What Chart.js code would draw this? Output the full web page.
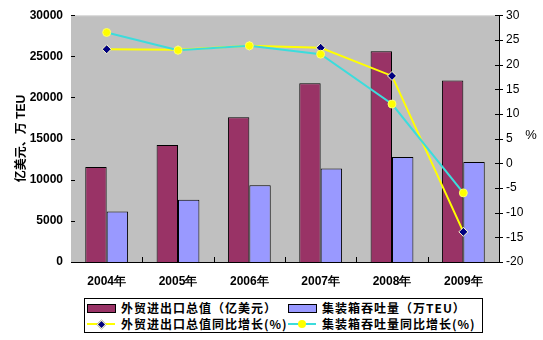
<!DOCTYPE html>
<html>
<head>
<meta charset="utf-8">
<script src="https://cdn.jsdelivr.net/npm/chart.js@4.4.0/dist/chart.umd.min.js"></script>
<style>
  body { margin: 0; background: #fff; }
  #wrap { position: relative; width: 543px; height: 340px; }
  #legend {
    position: absolute; left: 84px; top: 298px; width: 397px; height: 33px;
    border: 1px solid #000; background: #fff;
    font-family: "Noto Sans CJK SC", sans-serif; font-size: 12px; font-weight: bold;
    letter-spacing: 1px; color: #000;
  }
  .item { position: absolute; height: 16px; line-height: 16px; white-space: nowrap; }
  .box { position: absolute; top: 4px; width: 27px; height: 7px; border: 1px solid #000; }
  .ln { position: absolute; top: 7px; width: 28px; height: 2px; }
  .mk { position: absolute; }
  .txt { position: absolute; left: 34px; top: 0; }
</style>
</head>
<body>
<div id="wrap">
  <canvas id="grafico" width="543" height="340"></canvas>
  <div id="legend">
    <div class="item" style="left:2px;top:1px;">
      <span class="box" style="left:0;background:#993366;"></span>
      <span class="txt">外贸进出口总值（亿美元）</span>
    </div>
    <div class="item" style="left:203px;top:1px;">
      <span class="box" style="left:0;background:#9999FF;"></span>
      <span class="txt">集装箱吞吐量（万TEU）</span>
    </div>
    <div class="item" style="left:2px;top:17px;">
      <span class="ln" style="left:0;background:#FFFF00;"></span>
      <span class="mk" style="left:11px;top:5px;width:5px;height:5px;background:#000080;transform:rotate(45deg);border:0.5px solid #ffffcc;"></span>
      <span class="txt">外贸进出口总值同比增长(%)</span>
    </div>
    <div class="item" style="left:203px;top:17px;">
      <span class="ln" style="left:0;background:#3CDCDC;"></span>
      <span class="mk" style="left:10px;top:4px;width:8px;height:8px;border-radius:50%;background:#FFFF00;"></span>
      <span class="txt">集装箱吞吐量同比增长(%)</span>
    </div>
  </div>
</div>
<script>
const years = ['2004年', '2005年', '2006年', '2007年', '2008年', '2009年'];
const tradeValue = [11548, 14221, 17604, 21738, 25616, 22072];
const containerTeu = [6150, 7560, 9330, 11380, 12760, 12150];
const tradeGrowth = [23.1, 23.0, 23.8, 23.4, 17.7, -13.9];
const containerGrowth = [26.5, 22.9, 23.8, 22.1, 12.0, -6.0];

const leftMin = 0, leftMax = 30000, leftStep = 5000;
const rightMin = -20, rightMax = 30, rightStep = 5;

// fondo gris, marcas de los ejes y el "%"
const extras = {
    id: 'extras',
    beforeDatasetsDraw(chart) {
        const { ctx, chartArea: a } = chart;
        ctx.save();
        ctx.fillStyle = '#C0C0C0';
        ctx.fillRect(a.left, a.top, a.right - a.left, a.bottom - a.top);
        ctx.strokeStyle = '#e0e0e0';
        ctx.lineWidth = 1;
        ctx.beginPath();
        ctx.moveTo(a.left, a.top + 0.5);
        ctx.lineTo(a.right, a.top + 0.5);
        ctx.stroke();
        ctx.restore();
    },
    afterDraw(chart) {
        const { ctx, chartArea: a, scales } = chart;
        ctx.save();
        ctx.strokeStyle = '#000';
        ctx.lineWidth = 1;
        ctx.beginPath();
        for (let v = leftMin; v <= leftMax; v += leftStep) {
            const y = Math.round(scales.y.getPixelForValue(v)) + 0.5;
            ctx.moveTo(a.left, y);
            ctx.lineTo(a.left + 4, y);
        }
        for (let v = rightMin; v <= rightMax; v += rightStep) {
            const y = Math.round(scales.y1.getPixelForValue(v)) + 0.5;
            ctx.moveTo(a.right - 4, y);
            ctx.lineTo(a.right + 4, y);
        }
        const w = (a.right - a.left) / years.length;
        for (let i = 1; i < years.length; i++) {
            const x = Math.round(a.left + w * i) + 0.5;
            ctx.moveTo(x, a.bottom);
            ctx.lineTo(x, a.bottom - 5);
        }
        ctx.stroke();
        ctx.fillStyle = '#000';
        ctx.font = '13px "Liberation Sans", Arial, sans-serif';
        ctx.textAlign = 'center';
        ctx.textBaseline = 'middle';
        ctx.fillText('%', 531, 135);
        ctx.restore();
    }
};

new Chart(document.getElementById('grafico'), {
    data: {
        labels: years,
        datasets: [
            { type: 'line', label: '外贸进出口总值同比增长(%)', data: tradeGrowth, yAxisID: 'y1', order: 1,
              borderColor: '#FFFF00', borderWidth: 2, pointStyle: 'rectRot', pointRadius: 4.5,
              pointBackgroundColor: '#000080', pointBorderColor: '#ffffcc', pointBorderWidth: 1, tension: 0 },
            { type: 'line', label: '集装箱吞吐量同比增长(%)', data: containerGrowth, yAxisID: 'y1', order: 0,
              borderColor: '#3CDCDC', borderWidth: 2, pointStyle: 'circle', pointRadius: 4,
              pointBackgroundColor: '#FFFF00', pointBorderColor: '#FFFF66', pointBorderWidth: 1, tension: 0 },
            { type: 'bar', label: '外贸进出口总值（亿美元）', data: tradeValue, yAxisID: 'y', order: 2,
              backgroundColor: '#993366', borderColor: '#000', borderWidth: 1,
              categoryPercentage: 0.6, barPercentage: 1 },
            { type: 'bar', label: '集装箱吞吐量（万TEU）', data: containerTeu, yAxisID: 'y', order: 3,
              backgroundColor: '#9999FF', borderColor: '#000', borderWidth: 1,
              categoryPercentage: 0.6, barPercentage: 1 }
        ]
    },
    options: {
        responsive: false,
        animation: false,
        layout: { padding: { top: 8, left: 0, right: 0, bottom: 0 } },
        plugins: { legend: { display: false }, tooltip: { enabled: false } },
        scales: {
            x: {
                offset: true,
                grid: { display: false, drawTicks: false },
                border: { display: true, color: '#000', width: 1 },
                ticks: { color: '#000', padding: 12, font: { family: '"Liberation Sans", Arial, sans-serif', size: 12, weight: 'bold' } },
                afterFit(s) { s.height = 78; }
            },
            y: {
                position: 'left', min: leftMin, max: leftMax,
                grid: { display: false, drawTicks: false },
                border: { display: true, color: '#000', width: 1 },
                ticks: { stepSize: leftStep, color: '#000', padding: 8, callback: v => String(v),
                         font: { family: '"Liberation Sans", Arial, sans-serif', size: 12, weight: 'bold' } },
                title: { display: true, text: '亿美元、万 TEU', color: '#000', padding: { top: 14, bottom: 0 },
                         font: { family: '"Liberation Sans", "Noto Sans CJK SC", sans-serif', size: 12, weight: 'bold' } },
                afterFit(s) { s.width = 71; }
            },
            y1: {
                position: 'right', min: rightMin, max: rightMax,
                grid: { display: false, drawTicks: false },
                border: { display: true, color: '#000', width: 1 },
                ticks: { stepSize: rightStep, color: '#000', padding: 7, font: { family: '"Liberation Sans", Arial, sans-serif', size: 12 } },
                afterFit(s) { s.width = 44; }
            }
        }
    },
    plugins: [extras]
});
</script>
</body>
</html>
